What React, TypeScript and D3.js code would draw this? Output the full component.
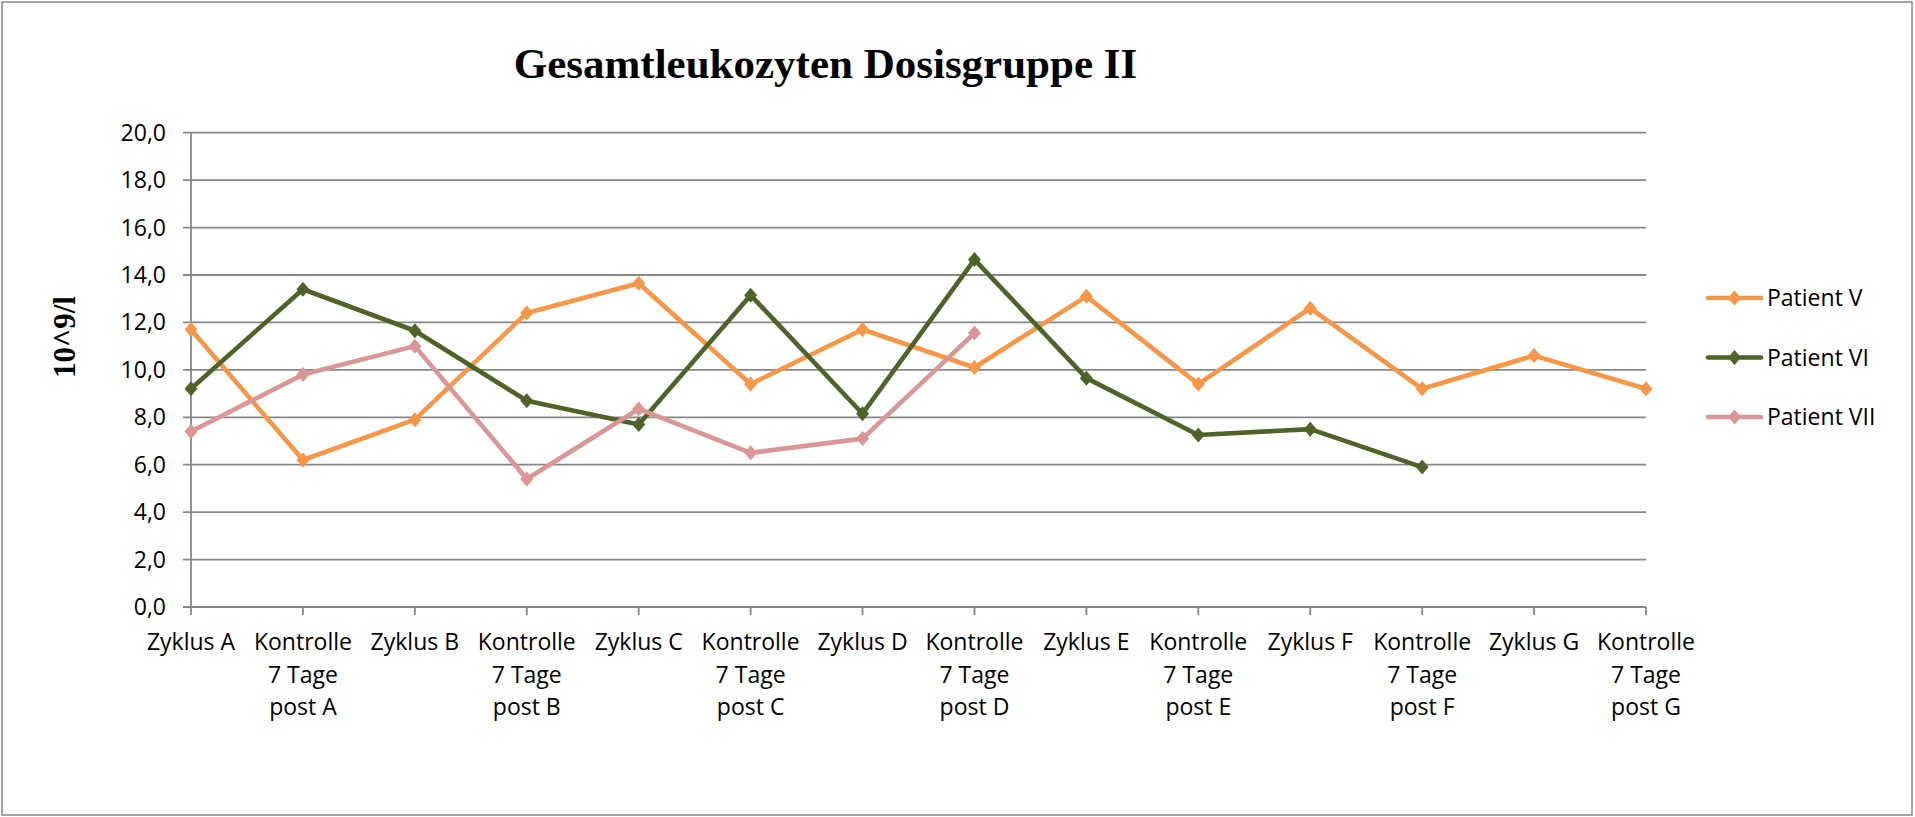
import React from "react";
import * as d3 from "d3";

const categories: string[] = [
  "Zyklus A",
  "Kontrolle\n7 Tage\npost A",
  "Zyklus B",
  "Kontrolle\n7 Tage\npost B",
  "Zyklus C",
  "Kontrolle\n7 Tage\npost C",
  "Zyklus D",
  "Kontrolle\n7 Tage\npost D",
  "Zyklus E",
  "Kontrolle\n7 Tage\npost E",
  "Zyklus F",
  "Kontrolle\n7 Tage\npost F",
  "Zyklus G",
  "Kontrolle\n7 Tage\npost G",
];

const patientV: (number | null)[] = [11.7, 6.2, 7.9, 12.4, 13.65, 9.4, 11.7, 10.1, 13.1, 9.4, 12.6, 9.2, 10.6, 9.2];
const patientVI: (number | null)[] = [9.2, 13.4, 11.65, 8.7, 7.7, 13.15, 8.15, 14.65, 9.65, 7.25, 7.5, 5.9, null, null];
const patientVII: (number | null)[] = [7.4, 9.8, 11.0, 5.4, 8.35, 6.5, 7.1, 11.55, null, null, null, null, null, null];

const seriesNames = ["Patient V", "Patient VI", "Patient VII"];
const seriesColors = ["#F79646", "#4F6228", "#D99694"];
const seriesValues = [patientV, patientVI, patientVII];

const yTicks = [0, 2, 4, 6, 8, 10, 12, 14, 16, 18, 20];

const title = "Gesamtleukozyten Dosisgruppe II";
const yLabel = "10^9/l";

const W = 1915;
const H = 817;
const FONT = "'Open Sans', sans-serif";
const SERIF = "'Liberation Serif', 'Times New Roman', serif";
const GRID = "#878787";

const diamond = "M0,-7.5L6.5,0L0,7.5L-6.5,0Z";

export default function App() {
  const x = d3.scalePoint<string>().domain(categories).range([191, 1646]);
  const y = d3.scaleLinear().domain([0, 20]).range([607, 132.7]);
  const fmt = (v: number) => v.toFixed(1).replace(".", ",");

  const line = d3
    .line<number | null>()
    .defined((d) => d != null)
    .x((_, i) => x(categories[i]) as number)
    .y((d) => y(d as number));

  return (
    <svg
      width={W}
      height={H}
      style={{ position: "absolute", left: 0, top: 0, background: "#fff" }}
    >
      <rect x={2} y={2} width={1910} height={813} fill="#fff" stroke={GRID} strokeWidth={1.5} />
      <text x={825.5} y={78} textAnchor="middle" fontFamily={SERIF} fontWeight="bold" fontSize={43}>
        {title}
      </text>
      <text
        transform="translate(75,337) rotate(-90)"
        textAnchor="middle"
        fontFamily={SERIF}
        fontWeight="bold"
        fontSize={31}
      >
        {yLabel}
      </text>

      {yTicks.map((t) => (
        <g key={t}>
          <line x1={183} x2={1646} y1={y(t)} y2={y(t)} stroke={GRID} strokeWidth={1.8} />
          <text x={166} y={y(t) + 8} textAnchor="end" fontFamily={FONT} fontSize={23} fill="#000">
            {fmt(t)}
          </text>
        </g>
      ))}
      <line x1={191} x2={191} y1={y(20)} y2={y(0)} stroke={GRID} strokeWidth={1.8} />
      {categories.map((c) => {
        const cx = x(c) as number;
        const lines = c.split("\n");
        return (
          <g key={c}>
            <line x1={cx} x2={cx} y1={607} y2={615} stroke={GRID} strokeWidth={1.8} />
            <text textAnchor="middle" fontFamily={FONT} fontSize={23} fill="#000">
              {lines.map((l, i) => (
                <tspan key={i} x={cx} y={650 + i * 32.5}>
                  {l}
                </tspan>
              ))}
            </text>
          </g>
        );
      })}

      {seriesValues.map((vals, si) => (
        <g key={seriesNames[si]}>
          <path
            d={line(vals) || ""}
            fill="none"
            stroke={seriesColors[si]}
            strokeWidth={4.6}
            strokeLinejoin="round"
            strokeLinecap="round"
          />
          {vals.map((v, i) =>
            v == null ? null : (
              <path
                key={i}
                d={diamond}
                transform={`translate(${x(categories[i])},${y(v)})`}
                fill={seriesColors[si]}
              />
            )
          )}
        </g>
      ))}

      {seriesNames.map((n, i) => {
        const ly = 298 + i * 59.5;
        return (
          <g key={n}>
            <line x1={1708} x2={1761} y1={ly} y2={ly} stroke={seriesColors[i]} strokeWidth={4.6} strokeLinecap="round" />
            <path d={diamond} transform={`translate(1734.5,${ly})`} fill={seriesColors[i]} />
            <text x={1767} y={ly + 8} fontFamily={FONT} fontSize={23} fill="#000">
              {n}
            </text>
          </g>
        );
      })}
    </svg>
  );
}
